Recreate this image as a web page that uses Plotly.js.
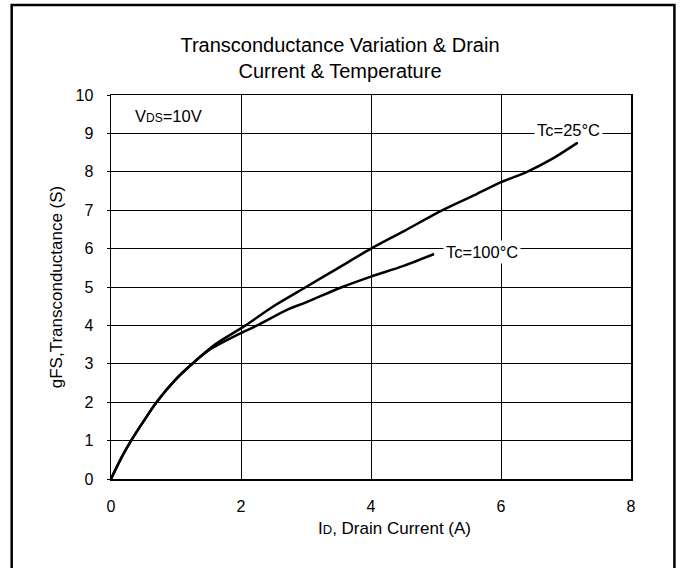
<!DOCTYPE html>
<html><head><meta charset="utf-8">
<script src="https://cdn.plot.ly/plotly-3.0.1.min.js"></script>
<style>html,body{margin:0;padding:0;background:#fff;}#chart{width:682px;height:568px;}</style>
</head><body><div id="chart"></div>
<script>
// Tc = 25°C
const id25 = [0, 0.1, 0.2, 0.31, 0.5, 0.7, 1.0, 1.25, 1.6, 2.07, 2.5, 3.0, 3.5, 4.0, 4.5, 5.1, 5.6, 6.0, 6.4, 6.8, 7.18];
const gfs25 = [0, 0.35, 0.68, 1.0, 1.5, 2.0, 2.6, 3.0, 3.5, 4.0, 4.5, 5.0, 5.5, 6.0, 6.45, 7.0, 7.4, 7.73, 8.0, 8.35, 8.76];
// Tc = 100°C
const id100 = [0, 0.1, 0.2, 0.31, 0.5, 0.7, 1.0, 1.25, 1.5, 2.0, 2.25, 2.7, 3.0, 3.56, 4.0, 4.5, 4.97];
const gfs100 = [0, 0.35, 0.68, 1.0, 1.5, 2.0, 2.6, 3.0, 3.35, 3.8, 4.0, 4.4, 4.6, 5.0, 5.27, 5.55, 5.86];
const xTicks = [0, 2, 4, 6, 8];
const yTicks = [0, 1, 2, 3, 4, 5, 6, 7, 8, 9, 10];

const FONT = 'Liberation Sans, Arial, sans-serif';
const L = 110.5, R = 631.5, T = 95, B = 479.5, W = 682, H = 568;
const pw = R - L, ph = B - T;
const px = v => (v - L) / pw;
const py = v => (B - v) / ph;

const traces = [
  {x: id25, y: gfs25, mode: 'lines', line: {color: '#000', width: 2.5, shape: 'spline', smoothing: 0.8}, name: 'Tc=25°C', hoverinfo: 'skip'},
  {x: id100, y: gfs100, mode: 'lines', line: {color: '#000', width: 2.5, shape: 'spline', smoothing: 0.8}, name: 'Tc=100°C', hoverinfo: 'skip'}
];

const layout = {
  width: W, height: H,
  margin: {l: L, r: W - R, t: T, b: H - B, pad: 0},
  paper_bgcolor: '#fff', plot_bgcolor: '#fff',
  showlegend: false,
  font: {family: FONT, size: 16, color: '#000'},
  title: {
    text: 'Transconductance Variation & Drain<br>Current & Temperature',
    font: {family: FONT, size: 20, color: '#000', lineposition: 'none'},
    x: 340 / W, xref: 'container', xanchor: 'center',
    y: 1 - 52 / H, yref: 'container', yanchor: 'top'
  },
  xaxis: {
    range: [0, 8], tickvals: xTicks, ticktext: xTicks.map(String),
    showgrid: true, gridcolor: '#000', gridwidth: 1,
    zeroline: false, showline: true, linecolor: '#000', linewidth: 1.5, mirror: true,
    ticks: '', ticklen: 0, tickfont: {family: FONT, size: 16}, ticklabelstandoff: 12, fixedrange: true
  },
  yaxis: {
    range: [0, 10], tickvals: yTicks, ticktext: yTicks.map(String),
    showgrid: true, gridcolor: '#000', gridwidth: 1,
    zeroline: false, showline: true, linecolor: '#000', linewidth: 1.5, mirror: true,
    ticks: 'outside', ticklen: 3, tickcolor: '#000', tickfont: {family: FONT, size: 16}, ticklabelstandoff: 10, fixedrange: true,
    title: {text: 'gFS,Transconductance (S)', font: {family: FONT, size: 17}, standoff: 8}
  },
  annotations: [
    {x: 0.89, y: 9.45, xref: 'x', yref: 'y', text: 'V<span style="font-size:12px">DS</span>=10V', showarrow: false, font: {family: FONT, size: 16.5}},
    {x: 7.04, y: 9.1, xref: 'x', yref: 'y', text: 'Tc=25°C', showarrow: false, bgcolor: '#fff', font: {family: FONT, size: 16.5}, borderpad: 2},
    {x: 5.71, y: 5.92, xref: 'x', yref: 'y', text: 'Tc=100°C', showarrow: false, bgcolor: '#fff', font: {family: FONT, size: 16.5}, borderpad: 2},
    {x: px(395), y: py(529), xref: 'paper', yref: 'paper', xanchor: 'center', yanchor: 'middle', text: 'I<span style="font-size:13px">D</span>, Drain Current (A)', showarrow: false, font: {family: FONT, size: 17}}
  ],
  shapes: [
    {type: 'rect', xref: 'paper', yref: 'paper', x0: px(11), x1: px(675), y0: py(572), y1: py(5), line: {color: '#000', width: 2.5}, fillcolor: 'rgba(0,0,0,0)', layer: 'below'}
  ]
};

Plotly.newPlot('chart', traces, layout, {staticPlot: true, displayModeBar: false});
</script></body></html>
